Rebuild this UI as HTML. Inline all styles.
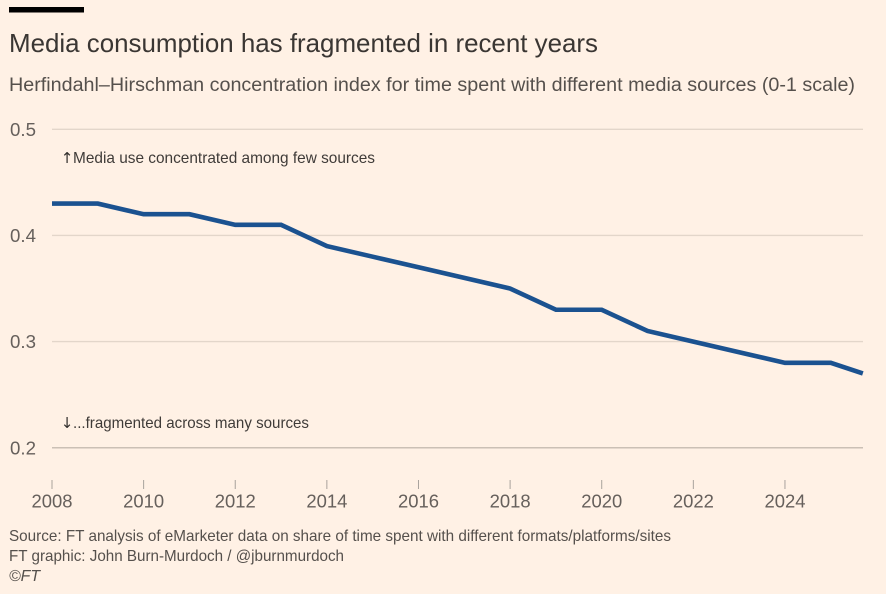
<!DOCTYPE html>
<html lang="en">
<head>
<meta charset="utf-8">
<title>Media consumption has fragmented in recent years</title>
<style>
html,body{margin:0;padding:0;background:#fff1e5;}
body{width:887px;height:595px;overflow:hidden;}
svg{display:block;}
text{font-family:"Liberation Sans",sans-serif;}
</style>
</head>
<body>
<svg id="chart" width="887" height="595" viewBox="0 0 887 595" xmlns="http://www.w3.org/2000/svg">
<rect x="0" y="0" width="887" height="595" fill="#fff1e5"/>
<rect x="886" y="0" width="1" height="595" fill="#ffffff"/>
<rect x="0" y="594" width="887" height="1" fill="#ffffff"/>
<rect x="9" y="7" width="75" height="5.5" fill="#000000"/>
<text x="9" y="52" font-size="26" fill="#3a3633" textLength="589" lengthAdjust="spacingAndGlyphs">Media consumption has fragmented in recent years</text>
<text x="9" y="91" font-size="19" fill="#55504c" textLength="846" lengthAdjust="spacingAndGlyphs">Herfindahl–Hirschman concentration index for time spent with different media sources (0-1 scale)</text>
<g id="grid"></g>
<g id="yticks"></g>
<g id="xticks"></g>
<text x="67" y="163" font-size="15" fill="#33302e" text-anchor="middle" style="font-family:'DejaVu Sans',sans-serif">↑</text>
<text x="73" y="163" font-size="16" fill="#3f3b38" textLength="302" lengthAdjust="spacingAndGlyphs">Media use concentrated among few sources</text>
<text x="67" y="428" font-size="15" fill="#33302e" text-anchor="middle" style="font-family:'DejaVu Sans',sans-serif">↓</text>
<text x="73" y="428" font-size="16" fill="#3f3b38" textLength="236" lengthAdjust="spacingAndGlyphs">...fragmented across many sources</text>
<path id="series-line" fill="none" stroke="#1b5290" stroke-width="4.6" stroke-linejoin="miter"/>
<text x="9" y="541" font-size="16" fill="#55504c" textLength="662" lengthAdjust="spacingAndGlyphs">Source: FT analysis of eMarketer data on share of time spent with different formats/platforms/sites</text>
<text x="9" y="561" font-size="16" fill="#55504c" textLength="335" lengthAdjust="spacingAndGlyphs">FT graphic: John Burn-Murdoch / @jburnmurdoch</text>
<text x="9" y="581" font-size="16" font-style="italic" fill="#55504c" textLength="31" lengthAdjust="spacingAndGlyphs">©FT</text>
</svg>
<script>
const years = [2008, 2009, 2010, 2011, 2012, 2013, 2014, 2015, 2016, 2017, 2018, 2019, 2020, 2021, 2022, 2023, 2024, 2025, 2025.7];
const hhiValues = [0.43, 0.43, 0.42, 0.42, 0.41, 0.41, 0.39, 0.38, 0.37, 0.36, 0.35, 0.33, 0.33, 0.31, 0.30, 0.29, 0.28, 0.28, 0.27];
const yTickValues = [0.5, 0.4, 0.3, 0.2];
const yTickLabels = ['0.5', '0.4', '0.3', '0.2'];
const xTickValues = [2008, 2010, 2012, 2014, 2016, 2018, 2020, 2022, 2024];
const xTickLabels = ['2008', '2010', '2012', '2014', '2016', '2018', '2020', '2022', '2024'];

const NS = 'http://www.w3.org/2000/svg';
function xScale(year) { return 52 + (year - 2008) * 45.81; }
function yScale(value) { return 129.3 + (0.5 - value) * 1061.5; }
function make(tag, parentId, attrs) {
  const el = document.createElementNS(NS, tag);
  Object.keys(attrs).forEach(function (k) { el.setAttribute(k, attrs[k]); });
  document.getElementById(parentId).appendChild(el);
  return el;
}

yTickValues.forEach(function (v, i) {
  const line = make('line', 'grid', { x1: 52, x2: 863, y1: yScale(v), y2: yScale(v), stroke: i === 3 ? '#cbc0b5' : '#e3d6ca', 'stroke-width': 1.4 });
  
  
  const label = make('text', 'yticks', { x: 10, y: yScale(v) + 6.5, 'font-size': 18, fill: '#66605c', textLength: 26, lengthAdjust: 'spacingAndGlyphs' });
  label.textContent = yTickLabels[i];
  
  
});

xTickValues.forEach(function (yr, i) {
  const tick = make('line', 'xticks', { x1: xScale(yr), x2: xScale(yr), y1: 480, y2: 489, stroke: '#a8a29c', 'stroke-width': 1 });
  
  
  const label = make('text', 'xticks', { x: xScale(yr), y: 507.5, 'font-size': 18, fill: '#66605c', 'text-anchor': 'middle', textLength: 41, lengthAdjust: 'spacingAndGlyphs' });
  label.textContent = xTickLabels[i];
  
  
});

document.getElementById('series-line').setAttribute('d', years.map(function (yr, i) {
  return (i ? 'L' : 'M') + xScale(yr).toFixed(2) + ' ' + yScale(hhiValues[i]).toFixed(2);
}).join(' '));
</script>
</body>
</html>
